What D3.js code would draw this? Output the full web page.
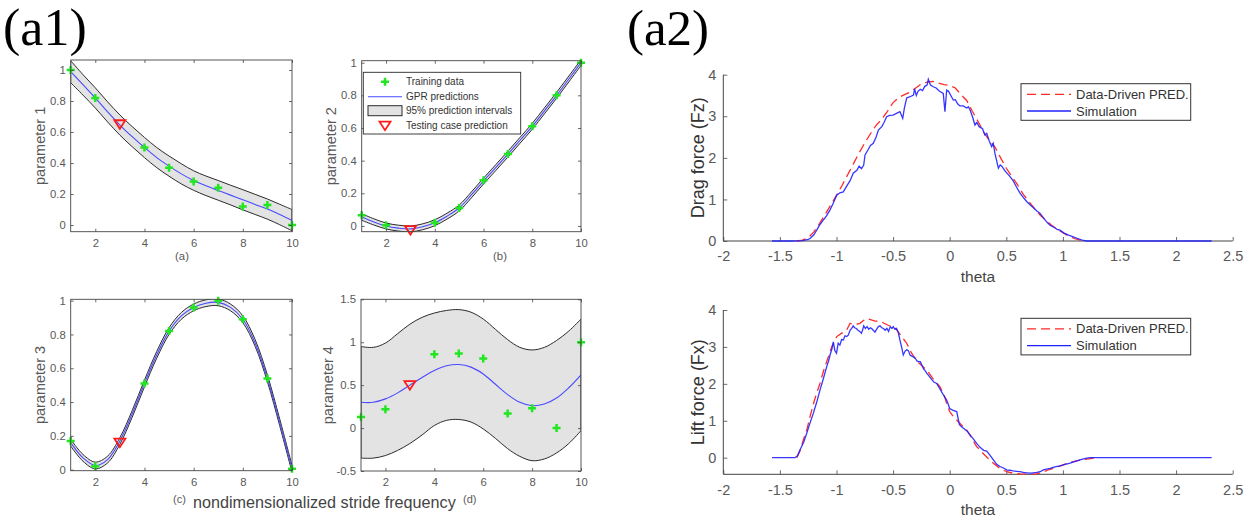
<!DOCTYPE html>
<html><head><meta charset="utf-8">
<script src="https://cdn.jsdelivr.net/npm/d3@7"></script>
<style>body{margin:0;background:#fff}svg{display:block}</style>
</head><body>
<script>
// ---------------- DATA ----------------
const gprX = [1,1.5,2,2.5,3,3.5,4,4.5,5,5.5,6,6.5,7,7.5,8,8.5,9,9.5,10];
const trainX = [1,2,4,5,6,7,8,9,10];
const testX = 3;
const xTicksLeft = [2,4,6,8,10];

const p1Train = [1.0,0.82,0.50,0.37,0.28,0.24,0.12,0.13,0.0];
const p1Test = 0.65;
const p1Mean  = [0.99,0.905,0.82,0.73,0.645,0.57,0.50,0.435,0.38,0.33,0.287,0.253,0.223,0.193,0.163,0.133,0.103,0.068,0.03];
const p1Upper = [1.06,0.97,0.885,0.795,0.71,0.635,0.565,0.50,0.445,0.395,0.350,0.316,0.287,0.257,0.228,0.198,0.168,0.134,0.10];
const p1Lower = [0.918,0.838,0.755,0.665,0.58,0.505,0.435,0.37,0.315,0.265,0.224,0.19,0.16,0.13,0.098,0.068,0.038,0.002,-0.037];

const p2Train = [0.065,0.005,0.02,0.11,0.28,0.44,0.61,0.80,1.0];
const p2Test = -0.025;
const p2Mean  = [0.055,0.025,0.0,-0.013,-0.018,-0.005,0.02,0.06,0.11,0.19,0.275,0.357,0.44,0.525,0.61,0.705,0.80,0.90,1.0];
const p2Upper = [0.075,0.044,0.018,0.005,0.0,0.013,0.038,0.078,0.128,0.208,0.293,0.375,0.458,0.543,0.628,0.723,0.818,0.918,1.018];
const p2Lower = [0.035,0.006,-0.018,-0.031,-0.036,-0.023,0.002,0.042,0.092,0.172,0.257,0.339,0.422,0.507,0.592,0.687,0.782,0.882,0.982];

const p3Train = [0.17,0.02,0.51,0.82,0.96,1.0,0.89,0.54,0.005];
const p3Test = 0.16;
const p3Mean  = [0.16,0.07,0.025,0.06,0.17,0.33,0.51,0.68,0.82,0.91,0.96,0.985,0.99,0.96,0.89,0.75,0.54,0.28,0.005];
const p3Upper = [0.18,0.09,0.045,0.08,0.19,0.35,0.53,0.70,0.84,0.93,0.98,1.005,1.01,0.98,0.91,0.77,0.56,0.30,0.025];
const p3Lower = [0.14,0.05,0.005,0.04,0.15,0.31,0.49,0.66,0.80,0.89,0.94,0.965,0.97,0.94,0.87,0.73,0.52,0.26,-0.015];

const p4Train = [0.13,0.22,0.86,0.87,0.81,0.17,0.23,0.0,1.0];
const p4Test = 0.50;
const p4Mean  = [0.30,0.30,0.34,0.41,0.50,0.59,0.67,0.725,0.74,0.71,0.63,0.51,0.39,0.30,0.26,0.28,0.35,0.47,0.62];
const p4Upper = [0.95,0.94,0.99,1.10,1.21,1.29,1.34,1.37,1.38,1.35,1.27,1.15,1.03,0.94,0.91,0.94,1.02,1.13,1.27];
const p4Lower = [-0.35,-0.35,-0.32,-0.26,-0.18,-0.08,0.03,0.09,0.10,0.07,-0.01,-0.12,-0.24,-0.33,-0.38,-0.36,-0.29,-0.18,-0.03];

const thetaTicks = [-2,-1.5,-1,-0.5,0,0.5,1,1.5,2,2.5];
const forceTicks = [0,1,2,3,4];

const dragSimTheta = [-1.57,-1.40,-1.30,-1.25,-1.234,-1.20,-1.175,-1.15,-1.117,-1.09,-1.057,-1.03,-0.998,-0.97,-0.94,-0.91,-0.88,-0.852,-0.82,-0.80,-0.78,-0.76,-0.748,-0.72,-0.70,-0.675,-0.65,-0.63,-0.60,-0.58,-0.557,-0.53,-0.50,-0.47,-0.44,-0.43,-0.415,-0.40,-0.38,-0.35,-0.32,-0.31,-0.295,-0.28,-0.26,-0.24,-0.22,-0.20,-0.189,-0.17,-0.145,-0.12,-0.09,-0.057,-0.042,-0.027,-0.01,0.01,0.032,0.05,0.07,0.09,0.12,0.15,0.165,0.18,0.20,0.223,0.24,0.26,0.29,0.31,0.327,0.35,0.371,0.385,0.40,0.43,0.446,0.46,0.49,0.51,0.533,0.56,0.59,0.621,0.65,0.68,0.709,0.74,0.77,0.797,0.83,0.86,0.886,0.92,0.95,0.974,1.01,1.05,1.092,1.13,1.17,1.21,2.314];
const dragSimVal   = [0,0,0.01,0.04,0.06,0.15,0.26,0.38,0.50,0.60,0.75,0.90,1.10,1.16,1.18,1.32,1.45,1.63,1.70,1.80,1.74,1.82,2.07,2.20,2.30,2.35,2.50,2.67,2.75,2.85,2.99,3.02,3.03,3.07,3.11,3.05,2.95,3.20,3.44,3.47,3.51,3.66,3.50,3.60,3.65,3.62,3.72,3.75,3.89,3.75,3.71,3.68,3.60,3.55,3.11,3.63,3.60,3.50,3.39,3.40,3.30,3.25,3.25,3.20,3.23,3.15,3.00,2.79,2.85,2.75,2.70,2.55,2.59,2.40,2.27,2.35,2.10,1.75,1.83,1.80,1.68,1.62,1.55,1.45,1.30,1.15,1.05,0.95,0.87,0.80,0.72,0.67,0.55,0.45,0.38,0.33,0.28,0.26,0.19,0.14,0.10,0.06,0.02,0.0,0];
const dragPredTheta = [-1.35,-1.3,-1.25,-1.2,-1.15,-1.1,-1.05,-1.0,-0.95,-0.9,-0.85,-0.8,-0.75,-0.7,-0.65,-0.6,-0.55,-0.5,-0.45,-0.4,-0.35,-0.3,-0.25,-0.2,-0.15,-0.1,-0.05,0,0.05,0.1,0.15,0.2,0.25,0.3,0.35,0.4,0.45,0.5,0.55,0.6,0.65,0.7,0.75,0.8,0.85,0.9,0.95,1.0,1.05,1.1,1.15,1.2];
const dragPredVal   = [0,0.02,0.08,0.22,0.42,0.64,0.87,1.1,1.34,1.6,1.86,2.12,2.36,2.58,2.78,2.93,3.12,3.33,3.45,3.52,3.58,3.68,3.78,3.82,3.84,3.80,3.76,3.74,3.68,3.52,3.38,3.12,2.88,2.62,2.42,2.26,2.0,1.75,1.55,1.35,1.12,0.95,0.78,0.62,0.5,0.38,0.28,0.2,0.12,0.06,0.02,0];

const liftSimTheta = [-1.57,-1.367,-1.345,-1.323,-1.29,-1.263,-1.235,-1.205,-1.175,-1.146,-1.115,-1.087,-1.07,-1.057,-1.04,-1.028,-1.015,-1.0,-0.985,-0.97,-0.955,-0.94,-0.925,-0.91,-0.896,-0.88,-0.866,-0.852,-0.84,-0.825,-0.81,-0.795,-0.78,-0.77,-0.76,-0.745,-0.73,-0.715,-0.70,-0.69,-0.675,-0.66,-0.645,-0.63,-0.616,-0.60,-0.585,-0.57,-0.555,-0.54,-0.525,-0.51,-0.498,-0.485,-0.47,-0.455,-0.44,-0.425,-0.41,-0.395,-0.38,-0.365,-0.35,-0.335,-0.32,-0.305,-0.29,-0.275,-0.26,-0.245,-0.23,-0.215,-0.203,-0.18,-0.16,-0.14,-0.115,-0.09,-0.06,-0.027,-0.01,0.0,0.03,0.062,0.075,0.085,0.1,0.13,0.16,0.18,0.21,0.24,0.268,0.3,0.327,0.36,0.386,0.415,0.445,0.475,0.503,0.53,0.56,0.59,0.621,0.65,0.68,0.71,0.74,0.769,0.8,0.827,0.856,0.886,0.93,0.974,1.02,1.063,1.11,1.151,1.2,1.24,2.314];
const liftSimVal   = [0,0,0.05,0.21,0.42,0.66,0.93,1.2,1.5,1.83,2.15,2.46,2.62,2.78,2.95,3.14,2.9,2.83,3.1,3.05,3.2,3.19,3.3,3.28,3.32,3.45,3.5,3.57,3.52,3.5,3.45,3.42,3.37,3.45,3.57,3.5,3.55,3.48,3.52,3.5,3.45,3.4,3.48,3.55,3.57,3.52,3.5,3.45,3.5,3.42,3.55,3.5,3.55,3.48,3.5,3.4,3.19,3.0,2.78,2.88,2.92,2.9,2.78,2.75,2.73,2.7,2.62,2.6,2.6,2.5,2.4,2.35,2.29,2.2,2.12,2.05,2.01,1.88,1.72,1.56,1.42,1.33,1.28,1.25,1.05,0.9,0.85,0.78,0.7,0.62,0.5,0.38,0.28,0.2,0.18,0.05,-0.06,-0.18,-0.24,-0.28,-0.33,-0.34,-0.36,-0.37,-0.38,-0.4,-0.41,-0.42,-0.41,-0.4,-0.38,-0.33,-0.31,-0.29,-0.25,-0.22,-0.18,-0.15,-0.1,-0.06,-0.02,0.0,0];
const liftPredTheta = [-1.35,-1.32,-1.293,-1.26,-1.234,-1.2,-1.175,-1.146,-1.11,-1.072,-1.04,-0.998,-0.95,-0.91,-0.88,-0.85,-0.82,-0.793,-0.76,-0.733,-0.70,-0.66,-0.616,-0.58,-0.54,-0.50,-0.468,-0.43,-0.38,-0.34,-0.3,-0.25,-0.203,-0.15,-0.086,-0.05,-0.027,0.0,0.03,0.062,0.1,0.15,0.2,0.238,0.268,0.3,0.35,0.386,0.44,0.503,0.56,0.621,0.7,0.769,0.83,0.88,0.915,0.98,1.04,1.1,1.16,1.21,1.26,1.3];
const liftPredVal   = [0,0.2,0.48,0.78,1.11,1.5,1.75,2.01,2.4,2.73,3.02,3.28,3.38,3.46,3.64,3.6,3.62,3.64,3.72,3.77,3.74,3.7,3.7,3.64,3.58,3.55,3.46,3.3,3.1,2.85,2.65,2.5,2.38,2.15,1.92,1.7,1.47,1.25,1.12,1.02,0.9,0.75,0.5,0.3,0.21,0.1,-0.05,-0.15,-0.28,-0.38,-0.42,-0.44,-0.45,-0.44,-0.38,-0.32,-0.29,-0.22,-0.15,-0.1,-0.06,-0.04,-0.02,0.0];

// ---------------- DRAWING ----------------
const W = 1256, H = 523;
const FONT = "'Liberation Sans', Arial, Helvetica, sans-serif";
const AX = "#444";
const TXT = "#595959";
const svg = d3.select("body").append("svg").attr("width", W).attr("height", H)
  .style("font-family", FONT);
const defs = svg.append("defs");
let clipId = 0;

function styleAxis(g, fs) {
  g.selectAll("path.domain").remove();
  g.selectAll(".tick line").attr("stroke", AX).attr("stroke-width", 0.8);
  g.selectAll(".tick text").attr("fill", TXT).style("font-size", fs + "px").style("font-family", FONT);
}

function gprPanel(o) {
  const x = d3.scaleLinear().domain([1, 10]).range([o.x0, o.x1]);
  const y = d3.scaleLinear().domain(o.ydom).range([o.y1, o.y0]);
  const id = "clip" + (clipId++);
  defs.append("clipPath").attr("id", id).append("rect")
    .attr("x", o.x0).attr("y", o.y0).attr("width", o.x1 - o.x0).attr("height", o.y1 - o.y0);
  const g = svg.append("g");
  const pg = g.append("g").attr("clip-path", `url(#${id})`);
  const idx = d3.range(gprX.length);
  pg.append("path")
    .attr("d", d3.area().x(i => x(gprX[i])).y0(i => y(o.lower[i])).y1(i => y(o.upper[i]))
      .curve(d3.curveCatmullRom)(idx))
    .attr("fill", "#e3e3e3").attr("stroke", "#2b2b2b").attr("stroke-width", 1);
  pg.append("path")
    .attr("d", d3.line().x(i => x(gprX[i])).y(i => y(o.mean[i])).curve(d3.curveCatmullRom)(idx))
    .attr("fill", "none").attr("stroke", "#4a4aff").attr("stroke-width", 1.1);
  g.selectAll(null).data(trainX.map((v, i) => [v, o.train[i]])).join("path")
    .attr("transform", d => `translate(${x(d[0])},${y(d[1])})`)
    .attr("d", "M-4,0H4M0,-4V4").attr("stroke", "#22e622").attr("stroke-width", 2.5).attr("fill", "none");
  g.append("path").attr("transform", `translate(${x(testX)},${y(o.test)})`)
    .attr("d", "M-5.5,-4L5.5,-4L0,4.5Z").attr("stroke", "#ff1a1a").attr("stroke-width", 1.8).attr("fill", "none");
  const tl = 3;
  const gb = g.append("g").attr("transform", `translate(0,${o.y1})`)
    .call(d3.axisBottom(x).tickValues(xTicksLeft).tickSize(-tl).tickPadding(7).tickFormat(d3.format("d")));
  styleAxis(gb, 11.3);
  const gt = g.append("g").attr("transform", `translate(0,${o.y0})`)
    .call(d3.axisTop(x).tickValues(xTicksLeft).tickSize(-tl).tickFormat(""));
  styleAxis(gt, 11.3);
  const gl = g.append("g").attr("transform", `translate(${o.x0},0)`)
    .call(d3.axisLeft(y).tickValues(o.yticks).tickSize(-tl).tickPadding(5).tickFormat(d => String(d)));
  styleAxis(gl, 11.3);
  const gr = g.append("g").attr("transform", `translate(${o.x1},0)`)
    .call(d3.axisRight(y).tickValues(o.yticks).tickSize(-tl).tickFormat(""));
  styleAxis(gr, 11.3);
  g.append("rect").attr("x", o.x0).attr("y", o.y0).attr("width", o.x1 - o.x0).attr("height", o.y1 - o.y0)
    .attr("fill", "none").attr("stroke", AX).attr("stroke-width", 0.9);
  g.append("text").attr("transform", `translate(${o.ylx},${(o.y0 + o.y1) / 2}) rotate(-90)`)
    .attr("text-anchor", "middle").attr("dy", "0.35em")
    .attr("fill", TXT).style("font-size", "14.5px").text(o.ylabel);
  return {x, y, g};
}

gprPanel({x0: 70.7, x1: 292, y0: 60, y1: 231.7, ydom: [-0.043, 1.0645], yticks: [0, 0.2, 0.4, 0.6, 0.8, 1],
  mean: p1Mean, upper: p1Upper, lower: p1Lower, train: p1Train, test: p1Test, ylabel: "parameter 1", ylx: 40});
gprPanel({x0: 361.7, x1: 581, y0: 60.7, y1: 231.7, ydom: [-0.035, 1.012], yticks: [0, 0.2, 0.4, 0.6, 0.8, 1],
  mean: p2Mean, upper: p2Upper, lower: p2Lower, train: p2Train, test: p2Test, ylabel: "parameter 2", ylx: 331});
gprPanel({x0: 70.7, x1: 292, y0: 299.3, y1: 470.7, ydom: [-0.006, 1.008], yticks: [0, 0.2, 0.4, 0.6, 0.8, 1],
  mean: p3Mean, upper: p3Upper, lower: p3Lower, train: p3Train, test: p3Test, ylabel: "parameter 3", ylx: 40});
gprPanel({x0: 361, x1: 581, y0: 299.3, y1: 471, ydom: [-0.5, 1.5], yticks: [-0.5, 0, 0.5, 1, 1.5],
  mean: p4Mean, upper: p4Upper, lower: p4Lower, train: p4Train, test: p4Test, ylabel: "parameter 4", ylx: 327.5});

// legend of (b)
{
  const lg = svg.append("g");
  lg.append("rect").attr("x", 363.3).attr("y", 72.3).attr("width", 157.4).attr("height", 61.7)
    .attr("fill", "#fff").attr("stroke", "#2b2b2b").attr("stroke-width", 0.9);
  const rows = [81.7, 96.7, 110.7, 125.7];
  const labels = ["Training data", "GPR predictions", "95% prediction intervals", "Testing case prediction"];
  lg.append("path").attr("transform", `translate(385,${rows[0]})`).attr("d", "M-4,0H4M0,-4V4")
    .attr("stroke", "#22e622").attr("stroke-width", 2.5);
  lg.append("line").attr("x1", 368).attr("x2", 402).attr("y1", rows[1]).attr("y2", rows[1])
    .attr("stroke", "#4a4aff").attr("stroke-width", 1.1);
  lg.append("rect").attr("x", 368).attr("y", rows[2] - 5).attr("width", 34).attr("height", 10)
    .attr("fill", "#e3e3e3").attr("stroke", "#2b2b2b").attr("stroke-width", 1);
  lg.append("path").attr("transform", `translate(385,${rows[3]})`).attr("d", "M-5.5,-4L5.5,-4L0,4.5Z")
    .attr("stroke", "#ff1a1a").attr("stroke-width", 1.8).attr("fill", "none");
  lg.selectAll(null).data(labels).join("text").attr("x", 406).attr("y", (d, i) => rows[i])
    .attr("dy", "0.35em").attr("fill", "#333").style("font-size", "10px").text(d => d);
}

// sub labels
svg.append("text").attr("x", 182).attr("y", 260).attr("text-anchor", "middle").attr("fill", TXT)
  .style("font-size", "11.3px").text("(a)");
svg.append("text").attr("x", 500).attr("y", 260).attr("text-anchor", "middle").attr("fill", TXT)
  .style("font-size", "11.3px").text("(b)");
svg.append("text").attr("x", 173).attr("y", 503).attr("fill", TXT).style("font-size", "11px").text("(c)");
svg.append("text").attr("x", 193).attr("y", 508).attr("fill", "#444").style("font-size", "16.2px")
  .text("nondimensionalized stride frequency");
svg.append("text").attr("x", 463).attr("y", 503).attr("fill", TXT).style("font-size", "11px").text("(d)");

// big labels
svg.append("text").attr("x", 3).attr("y", 45).style("font-family", "'Liberation Serif','Times New Roman',serif")
  .style("font-size", "52px").attr("fill", "#000").text("(a1)");
svg.append("text").attr("x", 627).attr("y", 45).style("font-family", "'Liberation Serif','Times New Roman',serif")
  .style("font-size", "51px").attr("fill", "#000").text("(a2)");

// force panels
function forcePanel(o) {
  const x = d3.scaleLinear().domain([-2, 2.5]).range([723.3, 1232.7]);
  const y = d3.scaleLinear().domain(o.ydom).range([o.yb, o.yt]);
  const g = svg.append("g");
  const tl = 4;
  const gb = g.append("g").attr("transform", `translate(0,${o.yb})`)
    .call(d3.axisBottom(x).tickValues(thetaTicks).tickSize(-tl).tickPadding(10).tickFormat(d => String(d)));
  styleAxis(gb, 14.5);
  const gl = g.append("g").attr("transform", `translate(723.3,0)`)
    .call(d3.axisLeft(y).tickValues(forceTicks).tickSize(-tl).tickPadding(7).tickFormat(d => String(d)));
  styleAxis(gl, 14.5);
  g.append("line").attr("x1", 723.3).attr("x2", 1232.7).attr("y1", o.yb).attr("y2", o.yb).attr("stroke", AX).attr("stroke-width", 1);
  g.append("line").attr("x1", 723.3).attr("x2", 723.3).attr("y1", o.yt).attr("y2", o.yb).attr("stroke", AX).attr("stroke-width", 1);
  const line = d3.line().x(d => x(d[0])).y(d => y(d[1]));
  g.append("path").attr("d", line(o.predT.map((t, i) => [t, o.predV[i]])))
    .attr("fill", "none").attr("stroke", "#ff2a2a").attr("stroke-width", 1.3).attr("stroke-dasharray", "9,5");
  g.append("path").attr("d", line(o.simT.map((t, i) => [t, o.simV[i]])))
    .attr("fill", "none").attr("stroke", "#2020ff").attr("stroke-width", 1.3).attr("stroke-opacity", 0.9);
  g.append("text").attr("transform", `translate(698,${(o.yt + o.yb) / 2}) rotate(-90)`)
    .attr("text-anchor", "middle").attr("dy", "0.35em").attr("fill", "#333").style("font-size", "18px").text(o.ylabel);
  g.append("text").attr("x", 978).attr("y", o.thetaY).attr("text-anchor", "middle").attr("fill", "#444")
    .style("font-size", "15.5px").text("theta");
  const lt = o.legTop;
  g.append("rect").attr("x", 1021).attr("y", lt).attr("width", 169.7).attr("height", 36.6)
    .attr("fill", "#fff").attr("stroke", "#333").attr("stroke-width", 1);
  g.append("line").attr("x1", 1027).attr("x2", 1071).attr("y1", lt + 10.6).attr("y2", lt + 10.6)
    .attr("stroke", "#ff2a2a").attr("stroke-width", 1.3).attr("stroke-dasharray", "9,5");
  g.append("line").attr("x1", 1027).attr("x2", 1071).attr("y1", lt + 27.3).attr("y2", lt + 27.3)
    .attr("stroke", "#2020ff").attr("stroke-width", 1.3);
  g.append("text").attr("x", 1076).attr("y", lt + 10.6).attr("dy", "0.35em").attr("fill", "#333")
    .style("font-size", "13px").text("Data-Driven PRED.");
  g.append("text").attr("x", 1076).attr("y", lt + 27.3).attr("dy", "0.35em").attr("fill", "#333")
    .style("font-size", "13px").text("Simulation");
}
forcePanel({yt: 74.7, yb: 241, ydom: [0, 4], ylabel: "Drag force (Fz)", thetaY: 282, legTop: 83.7,
  simT: dragSimTheta, simV: dragSimVal, predT: dragPredTheta, predV: dragPredVal});
forcePanel({yt: 310, yb: 474.3, ydom: [-0.45, 4], ylabel: "Lift force (Fx)", thetaY: 515, legTop: 318.3,
  simT: liftSimTheta, simV: liftSimVal, predT: liftPredTheta, predV: liftPredVal});
</script>
</body></html>
